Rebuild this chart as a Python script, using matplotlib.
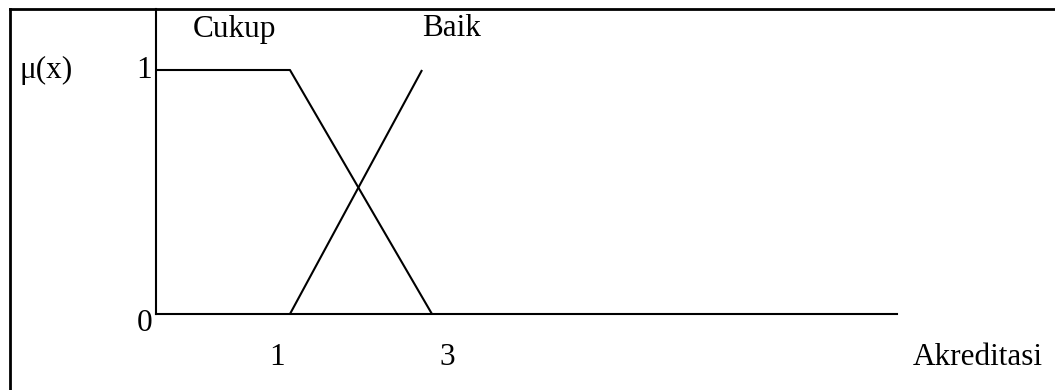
import matplotlib.pyplot as plt
from matplotlib.lines import Line2D

plt.rcParams['font.family'] = ['Liberation Serif', 'DejaVu Serif']

# membership functions (schematic)
cukup_x = [-0.887, 1, 3]
cukup_mu = [1, 1, 0]
baik_x = [1, 2.86]
baik_mu = [0, 1]
axis_end = 9.55

set_names = ['Cukup', 'Baik']
set_label_x = [0.225, 3.28]
set_label_y = [1.164, 1.172]

x_tick_labels = ['1', '3']
x_tick_pos = [0.82, 3.21]
y_tick_labels = ['0', '1']
y_tick_pos = [-0.04, 1.0]

W, H = 1055, 390
fig = plt.figure(figsize=(W / 100, H / 100), dpi=100)

# border lines (top and left)
fig.add_artist(Line2D([10 / W, 1], [1 - 8.7 / H, 1 - 8.7 / H], color='black', lw=2.0, transform=fig.transFigure))
fig.add_artist(Line2D([10 / W, 10 / W], [0, 1 - 8.7 / H], color='black', lw=2.0, transform=fig.transFigure))

ax = fig.add_axes([156 / W, (H - 314) / H, (897 - 156) / W, (314 - 9) / H])
ax.set_xlim(cukup_x[0], axis_end)
ax.set_ylim(0, 1.25)
ax.set_xticks([])
ax.set_yticks([])
ax.spines['top'].set_visible(False)
ax.spines['right'].set_visible(False)
for s in ['left', 'bottom']:
    ax.spines[s].set_linewidth(1.5)
ax.patch.set_visible(False)

ax.plot(cukup_x, cukup_mu, color='black', lw=1.5, clip_on=False, solid_capstyle='butt')
ax.plot(baik_x, baik_mu, color='black', lw=1.5, clip_on=False, solid_capstyle='butt')

fs = 22.5
for name, x, y in zip(set_names, set_label_x, set_label_y):
    ax.text(x, y, name, fontsize=fs, ha='center', va='center')
for lab, x in zip(x_tick_labels, x_tick_pos):
    ax.text(x, -0.18, lab, fontsize=fs, ha='center', va='center')
for lab, y in zip(y_tick_labels, y_tick_pos):
    ax.text(-1.05, y, lab, fontsize=fs, ha='center', va='center')
ax.text(10.69, -0.18, 'Akreditasi', fontsize=fs, ha='center', va='center', clip_on=False)
ax.text(-2.44, 1.0, 'μ(x)', fontsize=fs, ha='center', va='center')

fig.savefig('out.png', dpi=100)
